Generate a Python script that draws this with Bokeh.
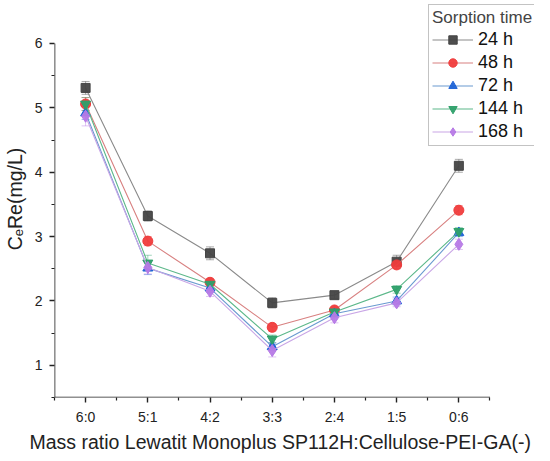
from bokeh.plotting import figure
from bokeh.models import FixedTicker, Whisker, TeeHead, ColumnDataSource, Legend, LegendItem, Title
from bokeh.embed import file_html
from bokeh.resources import INLINE

categories = ["6:0", "5:1", "4:2", "3:3", "2:4", "1:5", "0:6"]
series_names = ["24 h", "48 h", "72 h", "144 h", "168 h"]
v24 = [5.31, 3.32, 2.74, 1.97, 2.09, 2.61, 4.10]
v48 = [5.06, 2.93, 2.29, 1.59, 1.86, 2.56, 3.41]
v72 = [4.92, 2.51, 2.20, 1.29, 1.80, 2.00, 3.06]
v144 = [5.06, 2.59, 2.26, 1.41, 1.83, 2.18, 3.08]
v168 = [4.87, 2.52, 2.15, 1.23, 1.74, 1.97, 2.88]
e24 = [0.10, 0.08, 0.10, 0.08, 0.05, 0.10, 0.10]
e48 = [0.10, 0.07, 0.06, 0.06, 0.05, 0.06, 0.07]
e72 = [0.10, 0.10, 0.07, 0.06, 0.05, 0.06, 0.06]
e144 = [0.10, 0.12, 0.07, 0.06, 0.06, 0.06, 0.06]
e168 = [0.15, 0.10, 0.08, 0.10, 0.08, 0.06, 0.08]
y_ticks = [1, 2, 3, 4, 5, 6]
y_axis_span = [0.5, 6.0]
x_axis_span = [-0.5, 6.5]

values = [v24, v48, v72, v144, v168]
errors = [e24, e48, e72, e144, e168]
marker_colors = ["#444444", "#f03c3c", "#1f63d6", "#2ea06a", "#b77ae6"]
line_colors = ["#8a8a8a", "#d88080", "#6a9ad0", "#5cb88a", "#c9a6e6"]
markers = ["square", "circle", "triangle", "inverted_triangle", "diamond"]
sizes = [9, 10, 10, 10, 12]

# frame extends past the axes so the legend (which overlaps the top/right margin) isn't clipped
p = figure(width=534, height=458, output_backend="svg", toolbar_location=None,
           x_range=(-0.5, 7.216), y_range=(0.5, 6.668),
           min_border_left=49, min_border_right=0, min_border_top=0, min_border_bottom=61)
p.outline_line_color = None
p.xgrid.visible = False
p.ygrid.visible = False

axis_col = "#222222"
p.segment(x0=[x_axis_span[0]], y0=[y_axis_span[0]], x1=[x_axis_span[0]], y1=[y_axis_span[1]],
          line_color=axis_col, line_width=1.6)
p.segment(x0=[x_axis_span[0]], y0=[y_axis_span[0]], x1=[x_axis_span[1]], y1=[y_axis_span[0]],
          line_color=axis_col, line_width=1.6)

xs = list(range(len(categories)))
items = []
for i in range(len(values)):
    lo = [v - e for v, e in zip(values[i], errors[i])]
    hi = [v + e for v, e in zip(values[i], errors[i])]
    src = ColumnDataSource(dict(x=xs, y=values[i], lo=lo, hi=hi))
    w = Whisker(base="x", lower="lo", upper="hi", source=src,
                line_color=marker_colors[i], line_alpha=0.45, line_width=1,
                lower_head=TeeHead(size=8, line_color=marker_colors[i], line_alpha=0.45),
                upper_head=TeeHead(size=8, line_color=marker_colors[i], line_alpha=0.45))
    p.add_layout(w)
    ln = p.line("x", "y", source=src, line_color=line_colors[i], line_width=1.1)
    sc = p.scatter("x", "y", source=src, marker=markers[i], size=sizes[i],
                   fill_color=marker_colors[i], line_color=marker_colors[i], fill_alpha=0.95)
    items.append(LegendItem(label=series_names[i], renderers=[ln, sc]))

font = "Liberation Sans"
p.xaxis.ticker = FixedTicker(ticks=xs, minor_ticks=[-0.5, 0.5, 1.5, 2.5, 3.5, 4.5, 5.5, 6.5])
p.xaxis.major_label_overrides = {i: c for i, c in enumerate(categories)}
p.yaxis.ticker = FixedTicker(ticks=y_ticks, minor_ticks=[0.5, 1.5, 2.5, 3.5, 4.5, 5.5])
for ax in (p.xaxis, p.yaxis):
    ax.axis_line_color = None
    ax.major_tick_line_color = axis_col
    ax.minor_tick_line_color = axis_col
    ax.major_tick_line_width = 1.4
    ax.minor_tick_line_width = 1.2
    ax.major_tick_out = 5
    ax.major_tick_in = 0
    ax.minor_tick_out = 3
    ax.minor_tick_in = 0
    ax.major_label_text_font = font
    ax.major_label_text_font_size = "14px"
    ax.major_label_text_color = axis_col
    ax.axis_label_text_font = font
    ax.axis_label_text_font_size = "19.5px"
    ax.axis_label_text_font_style = "normal"
    ax.axis_label_text_color = axis_col
p.xaxis.major_label_standoff = 6
p.yaxis.major_label_standoff = 7
p.yaxis.axis_label = "C\u2091Re(mg/L)"
p.yaxis.axis_label_standoff = 6

# x-axis title placed as a below-panel Title so it can be positioned independently of the wide frame
xtitle = Title(text="Mass ratio Lewatit Monoplus SP112H:Cellulose-PEI-GA(-)", align="left",
               offset=-25, standoff=5, text_font=font, text_font_size="19.5px",
               text_font_style="normal", text_color=axis_col, text_line_height=1.0,
               vertical_align="middle")
p.add_layout(xtitle, "below")

legend = Legend(items=items, location=(374, 251), title="Sorption time",
                title_text_font=font, title_text_font_size="17px", title_text_font_style="normal",
                title_standoff=1,
                label_text_font=font, label_text_font_size="18px", label_text_color="#111111",
                glyph_width=41, glyph_height=21, label_height=21, spacing=2, label_standoff=5,
                padding=3, margin=0, border_line_color="#888888", border_line_width=1.2,
                background_fill_alpha=1.0)
p.add_layout(legend, "center")

open("out.html", "w").write(file_html(p, INLINE))
